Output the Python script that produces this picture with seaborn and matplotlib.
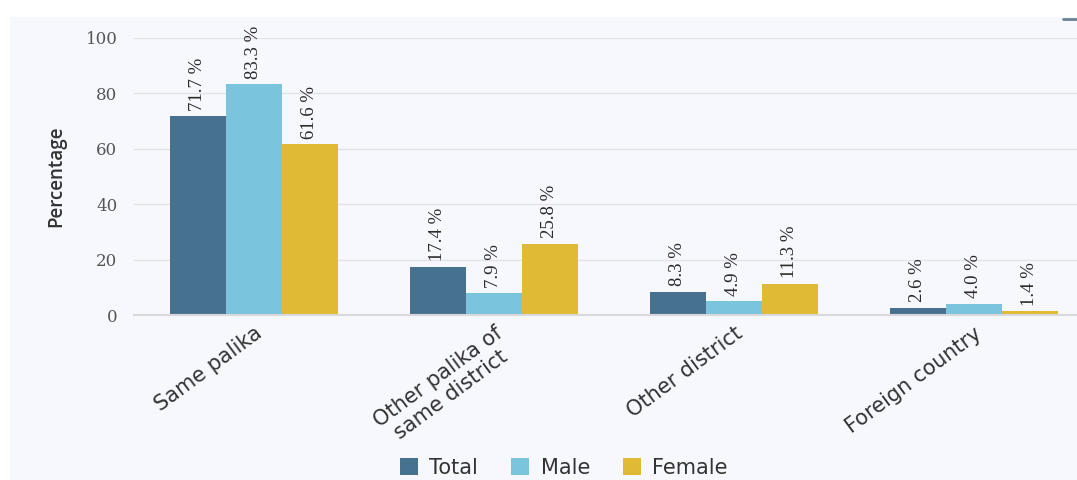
import matplotlib
matplotlib.use("Agg")
import matplotlib.pyplot as plt
from matplotlib.patches import Rectangle, FancyBboxPatch
from matplotlib.lines import Line2D
import seaborn as sns
import pandas as pd

# Place of previous residence, share of migrants by sex
categories = ["Same palika", "Other palika of\nsame district", "Other district", "Foreign country"]
series = ["Total", "Male", "Female"]
total = [71.7, 17.4, 8.3, 2.6]
male = [83.3, 7.9, 4.9, 4.0]
female = [61.6, 25.8, 11.3, 1.4]
yticks = [0, 20, 40, 60, 80, 100]

colors = {"Total": "#46728f", "Male": "#7ac4dd", "Female": "#e0b935"}
panel_bg = "#f7f8fd"
text_dark = "#333333"

df = pd.DataFrame({
    "Category": categories * 3,
    "Sex": [s for s in series for _ in categories],
    "Percentage": total + male + female,
})

sns.set_theme(style="white")
plt.rcParams["font.family"] = ["DejaVu Sans"]

W, H = 1077, 480
fig = plt.figure(figsize=(W / 100, H / 100), dpi=100, facecolor="white")

# light panel behind the chart
fig.patches.append(Rectangle((10 / W, 0), 1, 1 - 17 / H, transform=fig.transFigure,
                             facecolor=panel_bg, edgecolor="none", zorder=-10))
# small menu dash at the top right
fig.lines.append(Line2D([1063 / W, 1.0], [1 - 19 / H, 1 - 19 / H], transform=fig.transFigure,
                        color="#6f8293", lw=2, zorder=-5))

left, right = 134 / W, 1094 / W
bottom, top = 1 - 315 / H, 1 - 38 / H
ax = fig.add_axes([left, bottom, right - left, top - bottom])
ax.set_facecolor("none")

sns.barplot(data=df, x="Category", y="Percentage", hue="Sex", hue_order=series,
            palette=colors, width=0.7, saturation=1, ax=ax, legend=False,
            edgecolor="none", linewidth=0)

ax.set_xlim(-0.5, len(categories) - 0.5)
ax.set_ylim(0, 100)
ax.set_yticks(yticks)
ax.grid(axis="y", color="#e3e3e6", lw=1)
ax.set_axisbelow(True)
for side in ["top", "right", "left"]:
    ax.spines[side].set_visible(False)
ax.spines["bottom"].set_color("#d9d9dc")
ax.spines["bottom"].set_linewidth(1.5)

ax.tick_params(axis="y", length=0, pad=12, labelsize=12, labelcolor="#555555")
for lbl in ax.get_yticklabels():
    lbl.set_fontfamily("DejaVu Serif")

# category ticks sit between the groups
ax.set_xticks([i - 0.5 for i in range(len(categories))], minor=True)
ax.tick_params(axis="x", which="minor", length=7, width=1.2, color="#d3d3d6", direction="out")
ax.tick_params(axis="x", which="major", length=0, pad=6)
ax.set_xticklabels(categories, rotation=36.5, ha="right", va="top",
                   rotation_mode="anchor", fontsize=15, color=text_dark, linespacing=1.1)
for lbl in ax.get_xticklabels():
    lbl.set_multialignment("center")

ax.set_xlabel("")
ax.set_ylabel("Percentage", fontsize=13.5, fontweight="semibold", color=text_dark,
              labelpad=14, family=["Open Sans", "DejaVu Sans"])

for container, vals in zip(ax.containers, [total, male, female]):
    ax.bar_label(container, labels=[f"{v:.1f} %" for v in vals], rotation=90,
                 padding=4, fontsize=13.5, color="#2a2a2a", family="Liberation Serif")

handles = [FancyBboxPatch((0, 0), 1, 1, boxstyle="round,pad=0,rounding_size=0.2",
                          facecolor=colors[s], edgecolor="none") for s in series]
fig.legend(handles, series, loc="center", bbox_to_anchor=(564 / W, 1 - 468 / H),
           ncol=3, frameon=False, fontsize=15, handlelength=0.85, handleheight=0.85,
           handletextpad=0.55, columnspacing=1.6, labelcolor=text_dark)

fig.savefig("out.png", dpi=100, facecolor="white")
